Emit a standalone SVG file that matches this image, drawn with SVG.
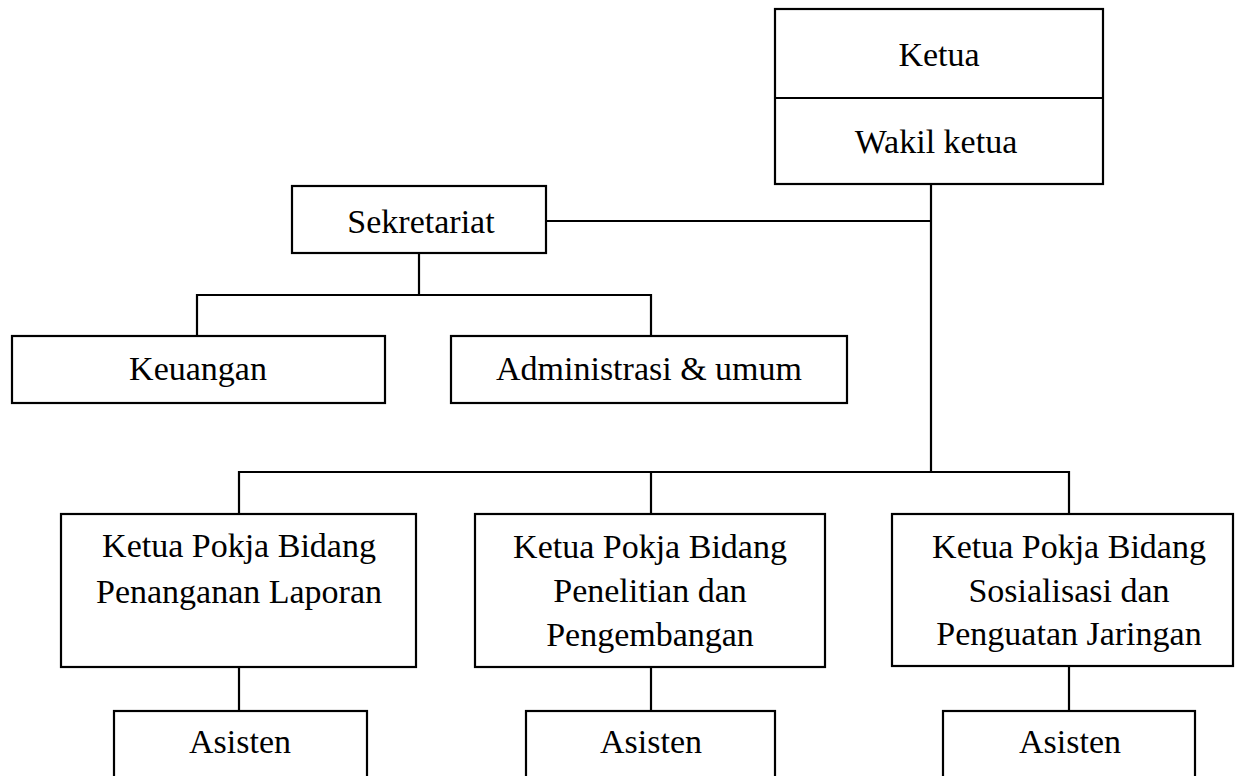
<svg xmlns="http://www.w3.org/2000/svg" width="1235" height="776" viewBox="0 0 1235 776">
<style>
  .box { fill: #ffffff; stroke: #000000; stroke-width: 2.2; }
  .ln { fill: none; stroke: #000000; stroke-width: 2.2; }
  text { font-family: "Liberation Serif", "Times New Roman", serif; font-size: 34px; fill: #000000; text-anchor: middle; }
</style>
<rect x="0" y="0" width="1235" height="776" fill="#ffffff"/>
<g id="connectors">
  <line class="ln" x1="931" y1="184" x2="931" y2="472"/>
  <line class="ln" x1="546" y1="221" x2="931" y2="221"/>
  <line class="ln" x1="419" y1="253" x2="419" y2="295"/>
  <polyline class="ln" points="197,336 197,295 651,295 651,336"/>
  <polyline class="ln" points="239,514 239,472 1069,472 1069,514"/>
  <line class="ln" x1="651" y1="472" x2="651" y2="514"/>
  <line class="ln" x1="239" y1="667" x2="239" y2="711"/>
  <line class="ln" x1="651" y1="667" x2="651" y2="711"/>
  <line class="ln" x1="1069" y1="666" x2="1069" y2="711"/>
</g>
<g id="ketua">
  <rect class="box" x="775" y="9" width="328" height="175"/>
  <line class="ln" x1="775" y1="98" x2="1103" y2="98"/>
  <text x="939" y="66">Ketua</text>
  <text x="936" y="153">Wakil ketua</text>
</g>
<g id="sekretariat">
  <rect class="box" x="292" y="186" width="254" height="67"/>
  <text x="421" y="233">Sekretariat</text>
</g>
<g id="keuangan">
  <rect class="box" x="12" y="336" width="373" height="67"/>
  <text x="198" y="380">Keuangan</text>
</g>
<g id="administrasi">
  <rect class="box" x="451" y="336" width="396" height="67"/>
  <text x="649" y="380">Administrasi &amp; umum</text>
</g>
<g id="pokja1">
  <rect class="box" x="61" y="514" width="355" height="153"/>
  <text x="239" y="557">Ketua Pokja Bidang</text>
  <text x="239" y="603">Penanganan Laporan</text>
</g>
<g id="pokja2">
  <rect class="box" x="475" y="514" width="350" height="153"/>
  <text x="650" y="558">Ketua Pokja Bidang</text>
  <text x="650" y="602">Penelitian dan</text>
  <text x="650" y="646">Pengembangan</text>
</g>
<g id="pokja3">
  <rect class="box" x="892" y="514" width="341" height="152"/>
  <text x="1069" y="558">Ketua Pokja Bidang</text>
  <text x="1069" y="602">Sosialisasi dan</text>
  <text x="1069" y="645">Penguatan Jaringan</text>
</g>
<g id="asisten1">
  <rect class="box" x="114" y="711" width="253" height="80"/>
  <text x="240" y="753">Asisten</text>
</g>
<g id="asisten2">
  <rect class="box" x="526" y="711" width="249" height="80"/>
  <text x="651" y="753">Asisten</text>
</g>
<g id="asisten3">
  <rect class="box" x="943" y="711" width="252" height="80"/>
  <text x="1070" y="753">Asisten</text>
</g>
</svg>
